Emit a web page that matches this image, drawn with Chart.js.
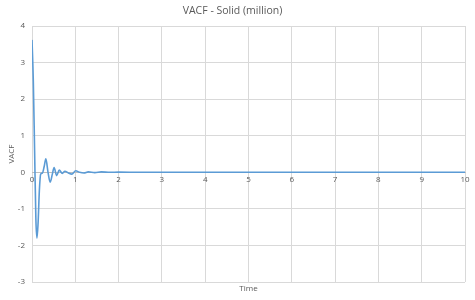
<!DOCTYPE html>
<html>
<head>
<meta charset="utf-8">
<script src="https://cdn.jsdelivr.net/npm/chart.js@4/dist/chart.umd.min.js"></script>
<style>
  html, body { margin: 0; padding: 0; background: #ffffff; }
  #wrap { width: 475px; height: 300px; }
</style>
</head>
<body>
<div id="wrap"><canvas id="c" width="475" height="300"></canvas></div>
<script>
const chartTitle = "VACF - Solid (million)";
const xTitle = "Time";
const yTitle = "VACF";
const times = [0, 0.03, 0.06, 0.09, 0.115, 0.14, 0.17, 0.2, 0.24, 0.28, 0.32, 0.37, 0.42, 0.47, 0.51, 0.57, 0.63, 0.7, 0.76, 0.84, 0.92, 1.01, 1.1, 1.2, 1.3, 1.45, 1.6, 1.8, 2, 2.5, 3, 4, 5, 6, 7, 8, 9, 10];
const vacf  = [3.62, 2.5, 0.6, -1.3, -1.8, -1.4, -0.5, -0.05, -0.02, 0.15, 0.37, 0.0, -0.27, -0.05, 0.13, -0.09, 0.06, -0.03, 0.03, -0.02, -0.05, 0.04, 0.0, -0.02, 0.01, -0.01, 0.01, 0.0, 0.005, 0.0, 0.0, 0.0, 0.0, 0.0, 0.0, 0.0, 0.0, 0.0];
const xMin = 0, xMax = 10, xStep = 1;
const yMin = -3, yMax = 4, yStep = 1;

const points = times.map((t, i) => ({ x: t, y: vacf[i] }));
const textColor = '#595959';
const gridColor = '#d9d9d9';
const fam = '"Open Sans", "Noto Sans", "Liberation Sans", sans-serif';

new Chart(document.getElementById('c'), {
  type: 'line',
  data: {
    datasets: [{
      data: points,
      borderColor: '#5b9bd5',
      borderWidth: 1.6,
      pointRadius: 0,
      fill: false,
      cubicInterpolationMode: 'monotone'
    }]
  },
  options: {
    responsive: false,
    animation: false,
    layout: { padding: { left: 0, right: 10, top: 0, bottom: 0 } },
    plugins: {
      legend: { display: false },
      tooltip: { enabled: false },
      title: {
        display: true,
        text: chartTitle,
        color: textColor,
        font: { family: fam, size: 10.5, weight: 'normal', lineHeight: 1.2 },
        padding: { top: 5, bottom: 8.4 }
      }
    },
    scales: {
      x: {
        type: 'linear',
        min: xMin, max: xMax,
        position: { y: 0 },
        ticks: { stepSize: xStep, color: textColor, font: { family: fam, size: 8 }, padding: 3, maxRotation: 0 },
        grid: { color: gridColor, drawTicks: false },
        border: { color: '#bfbfbf' }
      },
      x2: {
        type: 'linear',
        min: xMin, max: xMax,
        position: 'bottom',
        ticks: { display: false },
        grid: { display: false, drawTicks: false },
        border: { display: false },
        title: { display: true, text: xTitle, color: textColor, font: { family: fam, size: 8 }, padding: { top: 0, bottom: 6 } },
        afterFit: (s) => { s.height = 18; }
      },
      y: {
        type: 'linear',
        min: yMin, max: yMax,
        ticks: { stepSize: yStep, color: textColor, font: { family: fam, size: 8 }, padding: 7 },
        grid: { color: gridColor, drawTicks: false },
        border: { display: false },
        title: { display: true, text: yTitle, color: textColor, font: { family: fam, size: 8 }, padding: { top: 7, bottom: 0 } },
        afterFit: (s) => { s.width = 32; }
      }
    }
  }
});
</script>
</body>
</html>
